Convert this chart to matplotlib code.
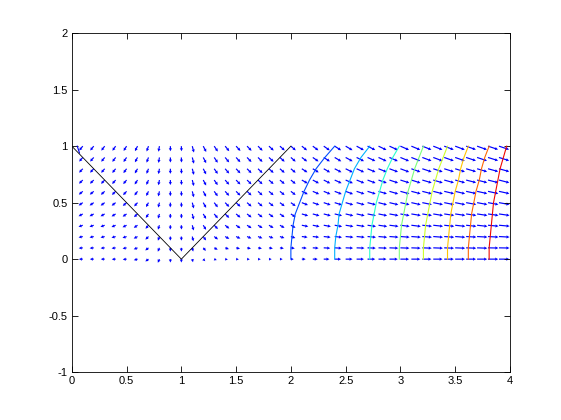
import matplotlib
matplotlib.use('Agg')
import matplotlib.pyplot as plt
import numpy as np

# grid of the arrow field: x = 0..4 step 0.1, y = 0..1 step 0.1
grid_x = [i / 10 for i in range(41)]
grid_y = [j / 10 for j in range(11)]

# arrow direction in degrees (row 0 is y = 0)
angle_deg = [
    [-180, -180, -180, -180, -178, -175, -165, -145, -115, -90, -90, -77, -45, -20, -10, -5, -3, -2, -1, 0, 0,
     0, 0, 0, 0, 0, 0, 0, 0, 0, 0, 0, 0, 0, 0, 0, 0, 0, 0, 0, 0],
    [-175, -175, -175, -175, -173, -170, -160, -142, -114, -91, -89, -76, -48, -27, -18, -13, -11, -10, -9, -8, -8,
     -3, -3, -3, -3, -2, -2, -2, -2, -2, -2, -2, -2, -2, -2, -2, -2, -2, -1, -1, -1],
    [-168, -168, -168, -167, -165, -162, -153, -136, -111, -91, -89, -76, -53, -36, -28, -24, -22, -21, -19, -18, -18,
     -7, -6, -6, -6, -5, -5, -5, -5, -4, -4, -4, -4, -4, -4, -4, -3, -3, -3, -3, -3],
    [-160, -160, -160, -159, -157, -154, -146, -131, -109, -92, -88, -75, -57, -45, -38, -34, -32, -31, -30, -29, -28,
     -11, -11, -10, -10, -9, -8, -8, -8, -7, -7, -7, -6, -6, -6, -6, -6, -6, -5, -5, -5],
    [-152, -152, -152, -151, -149, -146, -139, -125, -107, -92, -88, -75, -59, -49, -43, -39, -37, -36, -35, -34, -33,
     -16, -15, -14, -13, -13, -12, -11, -11, -10, -10, -9, -9, -9, -8, -8, -8, -8, -8, -8, -7],
    [-146, -146, -146, -144, -143, -140, -133, -120, -105, -92, -88, -75, -60, -51, -45, -42, -40, -39, -37, -36, -35,
     -21, -19, -18, -17, -16, -15, -14, -14, -13, -12, -12, -11, -11, -11, -11, -10, -10, -10, -10, -9],
    [-141, -141, -141, -139, -137, -134, -128, -117, -104, -91, -88, -75, -61, -53, -47, -44, -42, -41, -39, -38, -37,
     -25, -23, -22, -21, -20, -18, -17, -16, -16, -15, -14, -14, -14, -13, -13, -12, -12, -12, -12, -11],
    [-137, -137, -137, -135, -133, -131, -124, -115, -102, -91, -88, -75, -61, -54, -48, -45, -43, -42, -40, -39, -38,
     -29, -27, -26, -24, -23, -21, -20, -19, -18, -17, -17, -16, -16, -15, -15, -14, -14, -14, -14, -13],
    [-134, -134, -134, -132, -130, -127, -121, -112, -101, -91, -88, -75, -62, -54, -49, -46, -44, -43, -41, -40, -39,
     -32, -31, -29, -27, -26, -24, -22, -21, -20, -20, -19, -18, -18, -17, -17, -16, -16, -15, -15, -14],
    [-132, -132, -132, -130, -128, -125, -119, -111, -100, -90, -88, -75, -62, -55, -50, -47, -45, -44, -42, -41, -40,
     -36, -34, -32, -30, -28, -26, -24, -24, -23, -22, -21, -20, -20, -19, -19, -18, -18, -17, -17, -16],
    [-130, -130, -130, -128, -126, -123, -118, -110, -100, -90, -88, -75, -62, -55, -50, -47, -45, -44, -42, -41, -40,
     -38, -36, -34, -32, -30, -28, -26, -25, -24, -23, -22, -21, -21, -20, -20, -19, -19, -18, -18, -17],
]

# arrow length in hundredths of an x unit (row 0 is y = 0)
arrow_len = [
    [3.5] * 9 + [3.0, 3.0] + [2.8, 2.6, 2.5, 2.5, 2.5, 2.5, 2.5, 2.5, 2.5, 2.6] +
    [3.5, 4.5, 5.2, 5.8, 6.3, 6.7, 7.0, 7.3, 7.6, 7.9, 8.1, 8.3, 8.5, 8.7, 8.9, 9.0, 9.2, 9.3, 9.4, 9.5],
    [3.7] * 9 + [3.3, 3.3] + [3.4] + [3.6] * 9 +
    [4.5, 5.3, 5.9, 6.4, 6.8, 7.2, 7.5, 7.7, 8.0, 8.2, 8.4, 8.6, 8.8, 8.9, 9.1, 9.2, 9.3, 9.4, 9.5, 9.6],
    [3.9] * 9 + [3.6, 3.6] + [4.3] * 10 +
    [5.3, 5.8, 6.3, 6.7, 7.1, 7.4, 7.7, 7.9, 8.2, 8.4, 8.6, 8.8, 8.9, 9.1, 9.2, 9.3, 9.4, 9.5, 9.6, 9.7],
]
top_c = [6.0, 6.3, 6.6, 6.9, 7.2, 7.5, 7.8, 8.0, 8.3, 8.5, 8.7, 8.9, 9.0, 9.2, 9.3, 9.4, 9.5, 9.6, 9.7, 9.8]
len_a = [4.1, 4.3, 4.5, 4.6, 4.7, 4.8, 4.9, 5.0]
len_mid = [3.8, 4.0, 4.2, 4.3, 4.4, 4.5, 4.5, 4.5]
len_b = [4.8, 5.1, 5.3, 5.4, 5.5, 5.6, 5.7, 5.8]
for a, m, b in zip(len_a, len_mid, len_b):
    arrow_len.append([a] * 9 + [m, m] + [b] * 10 + top_c)

# the V shaped black line
v_x = [0, 1, 2]
v_y = [1, 0, 1]

# contour lines: x position at each y = 0, 0.1, ..., 1
cont_y = [j / 10 for j in range(11)]
cont_x = [
    [2.00, 2.00, 2.01, 2.02, 2.04, 2.08, 2.12, 2.17, 2.23, 2.31, 2.40],
    [2.40, 2.40, 2.41, 2.43, 2.44, 2.47, 2.50, 2.54, 2.58, 2.64, 2.72],
    [2.72, 2.72, 2.73, 2.74, 2.76, 2.78, 2.81, 2.84, 2.88, 2.93, 2.99],
    [2.99, 2.99, 3.00, 3.01, 3.03, 3.05, 3.07, 3.10, 3.13, 3.17, 3.21],
    [3.21, 3.21, 3.22, 3.23, 3.25, 3.27, 3.29, 3.32, 3.35, 3.39, 3.43],
    [3.43, 3.43, 3.44, 3.45, 3.46, 3.48, 3.50, 3.53, 3.55, 3.58, 3.62],
    [3.62, 3.62, 3.63, 3.64, 3.65, 3.67, 3.69, 3.72, 3.74, 3.77, 3.81],
    [3.81, 3.81, 3.82, 3.83, 3.84, 3.85, 3.87, 3.89, 3.91, 3.94, 3.97],
]
# small contour piece in the corner at (0, 1)
corner_x = [0.05, 0.06, 0.07]
corner_y = [1.0, 0.97, 0.94]

X, Y = np.meshgrid(grid_x, grid_y)
ang = np.radians(np.array(angle_deg))
L = np.array(arrow_len) / 100.0
U = L * np.cos(ang)
V = L * np.sin(ang)

fig = plt.figure(figsize=(5.61, 4.2), dpi=100)
ax = fig.add_axes([0.128, 0.114, 0.781, 0.807])

ax.quiver(X, Y, U, V, color='blue', angles='xy', scale_units='xy', scale=1,
          width=0.0027, headwidth=2.7, headlength=2.6, headaxislength=2.4, pivot='tail')

colors = plt.cm.jet(np.linspace(0.2, 0.9, len(cont_x)))
for cx, col in zip(cont_x, colors):
    ax.plot(cx, cont_y, color=col, lw=0.8)
ax.plot(corner_x, corner_y, color=plt.cm.jet(0.1), lw=0.8)

ax.plot(v_x, v_y, color='black', lw=0.6)

ax.set_xlim(0, 4)
ax.set_ylim(-1, 2)
ax.set_xticks(np.arange(0, 4.01, 0.5))
ax.set_yticks(np.arange(-1, 2.01, 0.5))
ax.set_xticklabels(['0', '0.5', '1', '1.5', '2', '2.5', '3', '3.5', '4'])
ax.set_yticklabels(['-1', '-0.5', '0', '0.5', '1', '1.5', '2'])
ax.tick_params(direction='in', length=4, width=0.6, top=True, right=True,
               labelsize=8, pad=3)
for lab in ax.get_xticklabels() + ax.get_yticklabels():
    lab.set_family('Liberation Sans')
for s in ax.spines.values():
    s.set_linewidth(0.6)

fig.savefig('out.png', dpi=100)
